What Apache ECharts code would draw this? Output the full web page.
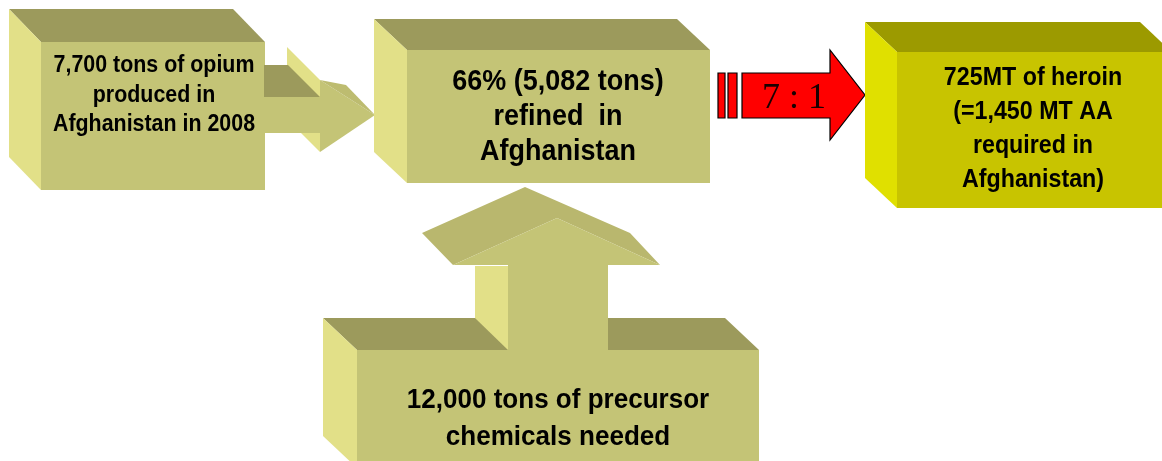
<!DOCTYPE html>
<html><head><meta charset="utf-8">
<script src="https://cdn.jsdelivr.net/npm/echarts@6/dist/echarts.min.js"></script>
<style>html,body{margin:0;padding:0;background:#fff}#c{width:1162px;height:461px}</style>
</head><body><div id="c"></div>
<script>
// ---- texts ----
const opiumLines = ['7,700 tons of opium', 'produced in', 'Afghanistan in 2008'];
const refinedLines = ['66% (5,082 tons)', 'refined  in', 'Afghanistan'];
const heroinLines = ['725MT of heroin', '(=1,450 MT AA', 'required in', 'Afghanistan)'];
const precursorLines = ['12,000 tons of precursor', 'chemicals needed'];
const ratioLabel = '7 : 1';

// ---- layout in diagram units (one unit = one canvas pixel) ----
const palettes = [
  { front: '#c4c476', top: '#9c9a5c', left: '#e2e088', head: '#b9b76e' },
  { front: '#c8c400', top: '#9c9a00', left: '#e0e000', head: '#b0ae00' }
];
// [x0, y0, x1, y1, depthX, depthY, palette]
const boxes = [
  [41, 42, 265, 190, -32, -33, 0],
  [407, 50, 710, 183, -33, -31, 0],
  [897, 52, 1172, 208, -32, -30, 1],
  [357, 350, 759, 468, -34, -32, 0]
];
// [centerX, firstLineY, lineHeight, fontSize]
const textBlocks = [
  [opiumLines, 154, 66, 29.5, 23],
  [refinedLines, 558, 82, 35, 29],
  [heroinLines, 1033, 78, 34, 25],
  [precursorLines, 558, 400, 37, 28]
];

const items = [];
boxes.forEach((b, i) => items.push({ kind: 'box', b }));
items.splice(1, 0, { kind: 'arrowRight' });
items.splice(3, 0, { kind: 'ratio' });
items.push({ kind: 'arrowUp' });
textBlocks.forEach(t => items.push({ kind: 'text', t }));

const chart = echarts.init(document.getElementById('c'), null, { renderer: 'canvas' });

function renderItem(params, api) {
  const it = items[api.value(0)];
  const P = (x, y) => api.coord([x, y]);
  const poly = (pts, fill, stroke) => ({
    type: 'polygon',
    shape: { points: pts.map(p => P(p[0], p[1])) },
    style: stroke ? { fill, stroke, lineWidth: 1.2 } : { fill }
  });
  const pal = palettes[0];
  if (it.kind === 'box') {
    const [x0, y0, x1, y1, dx, dy, pi] = it.b;
    const c = palettes[pi];
    return { type: 'group', children: [
      poly([[x0 + dx, y0 + dy], [x1 + dx, y0 + dy], [x1, y0], [x0, y0]], c.top),
      poly([[x0 + dx, y0 + dy], [x0, y0], [x0, y1], [x0 + dx, y1 + dy]], c.left),
      poly([[x0, y0], [x1, y0], [x1, y1], [x0, y1]], c.front)
    ]};
  }
  if (it.kind === 'arrowRight') {
    return { type: 'group', children: [
      poly([[287, 47], [320, 80], [320, 152], [287, 119]], pal.left),
      poly([[264, 65], [288, 65], [320, 97], [264, 97]], pal.top),
      poly([[264, 97], [321, 97], [321, 133], [264, 133]], pal.front),
      poly([[320, 80], [375, 115], [320, 152]], pal.front),
      poly([[320, 80], [346, 85], [375, 115]], '#bdbc70')
    ]};
  }
  if (it.kind === 'ratio') {
    return { type: 'group', children: [
      poly([[718, 73], [725, 73], [725, 118], [718, 118]], '#ff0000', '#000'),
      poly([[728, 73], [737, 73], [737, 118], [728, 118]], '#ff0000', '#000'),
      poly([[742, 73], [830, 73], [830, 50], [865, 95], [830, 140], [830, 118], [742, 118]], '#ff0000', '#000'),
      { type: 'text', x: P(794, 0)[0], y: P(0, 99)[1],
        style: { text: ratioLabel, fill: '#1a0000', font: '36px "Liberation Serif", "Times New Roman", serif', align: 'center', verticalAlign: 'middle' } }
    ]};
  }
  if (it.kind === 'arrowUp') {
    return { type: 'group', children: [
      poly([[475, 266], [509, 266], [509, 351], [475, 318]], pal.left),
      poly([[508, 264], [608, 264], [608, 351], [508, 351]], pal.front),
      poly([[422, 233], [525, 187], [630, 233], [660, 265], [557, 218], [453, 265]], pal.head),
      poly([[453, 265], [557, 218], [660, 265]], pal.front)
    ]};
  }
  if (it.kind === 'text') {
    const [lines, cx, y0, lh, fs] = it.t;
    return { type: 'group', children: lines.map((s, k) => ({
      type: 'text', x: P(cx, 0)[0], y: P(0, y0 + k * lh)[1], scaleX: 0.93,
      style: { text: s, fill: '#000', font: 'bold ' + fs + 'px "Liberation Sans", Arial, sans-serif', align: 'center', verticalAlign: 'middle' }
    }))};
  }
}

chart.setOption({
  animation: false,
  backgroundColor: '#ffffff',
  grid: { left: 0, right: 0, top: 0, bottom: 0 },
  xAxis: { type: 'value', min: 0, max: 1162, show: false },
  yAxis: { type: 'value', min: 0, max: 461, inverse: true, show: false },
  series: [{
    type: 'custom',
    clip: false,
    renderItem,
    data: items.map((_, i) => [i])
  }]
});
</script></body></html>
